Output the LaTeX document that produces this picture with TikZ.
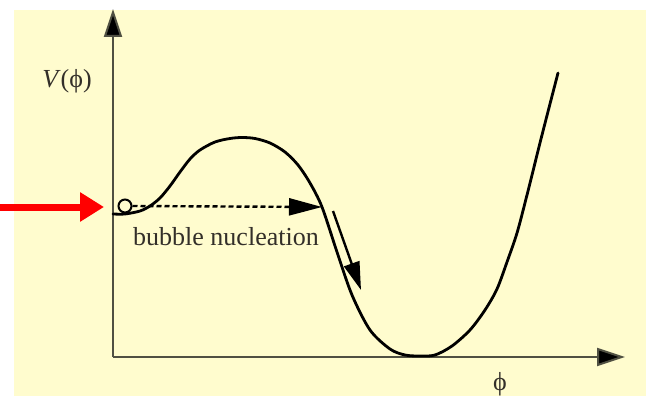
\documentclass[tikz,border=0pt]{standalone}
\usepackage{fontspec}
\newfontfamily\serifface{Liberation Serif}
\usetikzlibrary{arrows.meta}
\definecolor{bgyellow}{RGB}{255,252,206}
\definecolor{axisgray}{RGB}{80,80,66}
\begin{document}
\begin{tikzpicture}[x=1pt,y=-1pt,
  axisline/.style={draw=axisgray,line width=2pt,-{Triangle[length=28pt,width=18pt,fill=black]}},
  curveline/.style={draw=black,line width=2.8pt,line join=round,line cap=round},
  tunnel/.style={draw=black,line width=2.4pt,dash pattern=on 5pt off 3pt,-{Triangle[length=33pt,width=17pt]}},
  rollarrow/.style={draw=black,line width=2.4pt,-{Triangle[length=28pt,width=16pt]}},
  redarrow/.style={draw=red,line width=7pt,-{Triangle[length=24pt,width=28pt]}},
  lbl/.style={inner sep=0pt,font=\serifface\fontsize{26}{30}\selectfont,text=black!85!olive}
]
\useasboundingbox (0,0) rectangle (646,396);
\fill[bgyellow] (14,10) rectangle (646,396);
% axes
\coordinate (O) at (113,357);
\coordinate (Ytop) at (113,9);
\coordinate (Xend) at (625,357);
\draw[axisline] (O) -- (Ytop);
\draw[axisline] (O) -- (Xend);
% potential curve
\draw[curveline] plot[smooth,tension=0.5] coordinates {
 (113,214) (125,214) (140,211) (150,206) (160,198) (170,186) (180,172) (190,159) (200,150)
 (215,142) (230,138.5) (242,137.5) (255,138.5) (270,143) (285,152) (298,165) (310,183)
 (322,207) (337,252) (352,295) (370,330) (390,349) (405,355)
 (420,356) (435,355) (452,346) (470,330) (485,310) (497,289) (507,262) (517,233) (527,195)
 (542,135) (558,73)};
% ball
\node[draw=black,fill=bgyellow,line width=2pt,circle,minimum size=13pt,inner sep=0pt] (ball) at (125,206) {};
% tunnelling arrow
\coordinate (tunnelend) at (322,207);
\draw[tunnel] (ball.east) -- (tunnelend);
\node[lbl] (bn) at (226,237) {bubble nucleation};
% rolling arrow
\coordinate (rollA) at (333,211);
\coordinate (rollB) at (361,290);
\draw[rollarrow] (rollA) -- (rollB);
% red arrow
\coordinate (redA) at (0,207);
\coordinate (redB) at (104,207);
\draw[redarrow] (redA) -- (redB);
% labels
\node[lbl] (V) at (67,81) {\textit{V}(\char"03D5)};
\node[lbl] (phi) at (500,384) {\char"03D5};
\end{tikzpicture}
\end{document}
